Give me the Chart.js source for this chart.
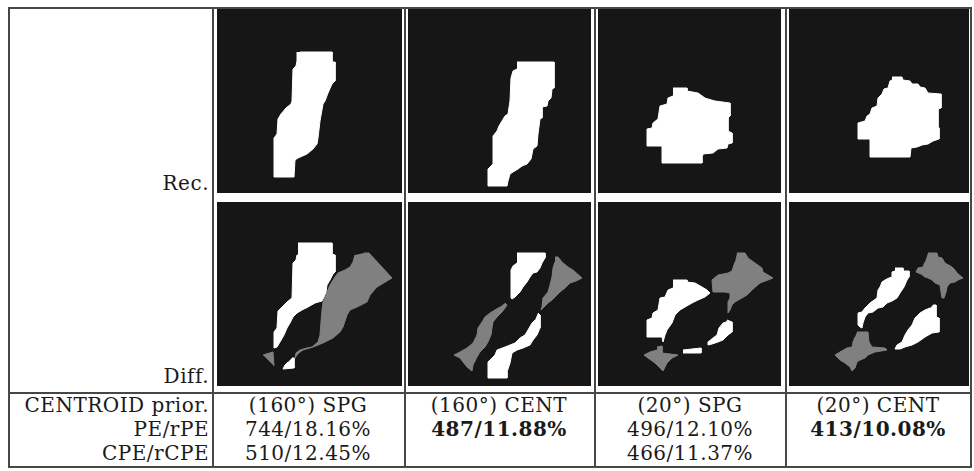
<!DOCTYPE html>
<html>
<head>
<meta charset="utf-8">
<script src="https://cdn.jsdelivr.net/npm/chart.js@4.4.0/dist/chart.umd.min.js"></script>
<style>
body { margin: 0; background: #fff; }
#sheet { position: relative; width: 974px; height: 471px; font-family: "DejaVu Serif", serif; color: #1a1a1a; overflow: hidden; }
.rule { position: absolute; background: #474747; }
.panel { position: absolute; background: #161616; }
.panel canvas { display: block; }
.txt { position: absolute; white-space: nowrap; font-size: 20px; line-height: 24px; letter-spacing: 0.5px; width: 300px; }
.r { text-align: right; }
.c { text-align: center; }
</style>
</head>
<body>
<div id="sheet"></div>
<script>
// column headers and result rows
const priors = ['(160°) SPG', '(160°) CENT', '(20°) SPG', '(20°) CENT'];
const peText = ['744/18.16%', '487/11.88%', '496/12.10%', '413/10.08%'];
const cpeText = ['510/12.45%', '', '466/11.37%', ''];
const bestPe = [false, true, false, true];
const rowLabels = ['CENTROID prior.', 'PE/rPE', 'CPE/rCPE'];

// reconstructed shapes (pixel units inside each panel, y downwards)
const recSpg160 = [[83,43],[115,43],[115,53],[118,53],[118,72],[115,75],[111,84],[108,92],[106,95],[103,112],[101,129],[100,135],[96,140],[90,145],[81,149],[78,151],[77,168],[57,168],[57,129],[60,125],[61,110],[64,105],[69,99],[74,95],[75,92],[76,60],[79,57],[80,52],[80,43]];
const recCent160 = [[109,53],[146,53],[146,79],[144,80],[143,89],[140,92],[139,97],[134,98],[134,109],[132,110],[130,125],[129,137],[125,140],[123,150],[119,155],[114,157],[110,160],[105,163],[102,165],[100,172],[99,177],[80,177],[80,160],[83,157],[85,155],[85,127],[89,122],[91,117],[94,112],[97,107],[100,105],[102,92],[103,69],[105,62],[109,60]];
const recSpg20 = [[75,79],[89,79],[89,82],[100,84],[107,89],[110,90],[117,92],[132,94],[132,107],[130,109],[130,122],[134,124],[134,134],[130,135],[129,139],[120,140],[115,144],[105,145],[104,149],[104,154],[64,154],[64,137],[49,137],[49,120],[54,119],[55,114],[60,110],[62,97],[69,95],[70,89],[75,87]];
const recCent20 = [[103,68],[113,68],[114,71],[121,72],[123,75],[129,75],[131,78],[136,79],[139,84],[152,85],[152,99],[149,100],[149,117],[150,119],[150,130],[144,132],[139,135],[133,136],[128,138],[122,139],[121,148],[81,148],[81,130],[69,130],[69,114],[76,112],[78,107],[81,105],[83,99],[88,97],[89,89],[93,85],[95,80],[99,79],[101,72],[103,71]];

// difference maps: white = extra pixels, gray = missed pixels
const diffSpg160White = [
  [[81,41],[115,41],[115,52],[118,53],[118,70],[116,72],[113,78],[110,83],[109,90],[107,95],[105,99],[98,101],[91,105],[85,108],[80,111],[76,115],[73,121],[70,126],[67,133],[63,140],[60,145],[57,146],[57,130],[60,126],[61,109],[65,105],[70,100],[75,96],[76,61],[79,58],[80,53],[81,53]],
  [[75,156],[77,156],[77,166],[66,167],[68,163],[71,160]]
];
const diffSpg160Gray = [
  [[147,51],[152,51],[175,76],[170,79],[160,85],[153,93],[150,100],[140,105],[133,108],[130,113],[126,125],[123,130],[116,136],[106,141],[96,145],[86,148],[83,150],[80,153],[78,156],[79,151],[83,148],[90,146],[95,145],[101,140],[103,133],[104,120],[105,108],[106,100],[108,96],[110,90],[113,83],[118,75],[121,71],[128,68],[133,65],[136,60],[138,53]],
  [[46,153],[56,150],[57,164]]
];
const diffCent160White = [
  [[109,51],[137,51],[137,56],[134,61],[132,66],[129,70],[125,71],[122,75],[119,80],[115,85],[112,90],[107,95],[104,97],[103,96],[103,68],[105,64],[109,61]],
  [[130,111],[132,113],[132,126],[129,133],[125,138],[122,143],[115,146],[109,148],[104,151],[102,161],[99,170],[99,176],[80,176],[80,160],[84,156],[87,153],[89,148],[97,145],[107,141],[112,136],[117,133],[120,128],[124,121],[127,118]]
];
const diffCent160Gray = [
  [[147,55],[150,55],[154,60],[160,65],[165,68],[174,76],[168,79],[162,81],[157,86],[152,90],[149,93],[144,98],[140,101],[135,106],[133,108],[134,105],[135,96],[140,90],[142,83],[144,75],[145,66],[147,60]],
  [[97,101],[99,103],[97,106],[94,110],[89,115],[85,120],[84,126],[83,133],[80,140],[77,145],[72,150],[69,155],[65,163],[64,169],[59,165],[52,156],[46,153],[52,150],[59,146],[65,141],[69,133],[70,126],[74,120],[77,115],[82,111],[87,108],[92,105]]
];
const diffSpg20White = [
  [[75,78],[89,78],[89,80],[97,81],[104,85],[109,88],[112,91],[107,95],[100,98],[94,101],[87,105],[82,108],[77,113],[74,121],[69,128],[67,133],[65,140],[64,135],[49,135],[49,118],[54,116],[55,111],[60,108],[62,96],[67,95],[70,88],[75,86]],
  [[129,118],[134,120],[134,130],[130,133],[125,138],[120,140],[114,142],[110,143],[110,140],[115,136],[119,133],[121,126],[125,121],[128,120]],
  [[85,148],[103,146],[103,151],[85,151]]
];
const diffSpg20Gray = [
  [[139,51],[147,51],[150,56],[157,61],[164,66],[165,70],[175,76],[170,78],[162,81],[154,88],[149,93],[144,96],[137,100],[134,103],[132,108],[130,111],[130,100],[132,96],[132,91],[127,90],[115,90],[114,78],[120,73],[130,71],[134,69],[137,60]],
  [[59,145],[64,144],[64,151],[80,153],[74,156],[69,161],[65,169],[62,166],[57,161],[50,156],[46,153],[52,150],[59,148]]
];
const diffCent20White = [
  [[106,66],[114,66],[114,69],[120,69],[120,75],[118,78],[115,85],[111,91],[108,96],[103,99],[98,101],[94,105],[89,106],[84,110],[79,111],[76,115],[74,121],[73,126],[71,125],[69,123],[69,111],[73,110],[76,106],[81,101],[88,96],[89,88],[91,85],[93,80],[96,78],[100,76],[103,75],[103,70],[106,69]],
  [[144,103],[147,103],[147,115],[150,116],[150,130],[143,131],[136,135],[129,140],[123,143],[116,145],[111,147],[106,147],[108,143],[113,140],[116,133],[119,128],[123,123],[126,116],[131,111],[136,108],[141,106]]
];
const diffCent20Gray = [
  [[139,51],[148,51],[149,55],[153,56],[156,61],[163,65],[166,68],[168,71],[174,76],[169,78],[166,80],[161,81],[158,85],[157,90],[155,96],[153,96],[152,90],[151,83],[146,81],[143,78],[139,76],[136,75],[132,72],[127,70],[129,66],[134,65],[136,60]],
  [[68,130],[79,130],[80,140],[83,145],[96,146],[98,148],[86,150],[79,153],[76,156],[71,158],[68,160],[66,166],[63,169],[61,165],[56,161],[51,158],[46,153],[51,150],[58,146],[63,145],[64,140],[66,135]]
];

const WHITE = '#ffffff';
const GRAY = '#808080';

const recRow = [[recSpg160], [recCent160], [recSpg20], [recCent20]];
const diffRow = [
  [diffSpg160White, diffSpg160Gray],
  [diffCent160White, diffCent160Gray],
  [diffSpg20White, diffSpg20Gray],
  [diffCent20White, diffCent20Gray]
];

const sheet = document.getElementById('sheet');

// panel columns and table rules
const cols = [{x: 217, w: 185}, {x: 408, w: 183}, {x: 598, w: 183}, {x: 789, w: 180}];
const rowTops = [9, 202];
const panelH = 184;

function rule(x, y, w, h) {
  const d = document.createElement('div');
  d.className = 'rule';
  d.style.left = x + 'px'; d.style.top = y + 'px';
  d.style.width = w + 'px'; d.style.height = h + 'px';
  sheet.appendChild(d);
}

function label(text, x, baseline, align, bold) {
  const d = document.createElement('div');
  d.className = 'txt ' + align;
  d.style.left = (align === 'r' ? x - 300 : x - 150) + 'px';
  d.style.top = (baseline - 19) + 'px';
  if (bold) d.style.fontWeight = 'bold';
  d.textContent = text;
  sheet.appendChild(d);
}

function toPoints(poly) {
  return poly.map(p => ({x: p[0], y: p[1]}));
}

// one chart per panel: every region is a closed polygon filled with 'shape'
function panel(col, top, groups) {
  const box = document.createElement('div');
  box.className = 'panel';
  box.style.left = col.x + 'px'; box.style.top = top + 'px';
  box.style.width = col.w + 'px'; box.style.height = panelH + 'px';
  const cv = document.createElement('canvas');
  cv.width = col.w; cv.height = panelH;
  box.appendChild(cv);
  sheet.appendChild(box);

  const datasets = [];
  groups.forEach((polys, gi) => {
    const color = gi === 0 ? WHITE : GRAY;
    polys.forEach(poly => {
      datasets.push({
        data: toPoints(poly),
        showLine: true,
        fill: 'shape',
        backgroundColor: color,
        borderColor: color,
        borderWidth: 1,
        pointRadius: 0,
        tension: 0
      });
    });
  });

  new Chart(cv, {
    type: 'scatter',
    data: {datasets: datasets},
    options: {
      responsive: false,
      animation: false,
      events: [],
      layout: {padding: 0},
      plugins: {legend: {display: false}, tooltip: {enabled: false}},
      scales: {
        x: {type: 'linear', display: false, min: 0, max: col.w},
        y: {type: 'linear', display: false, min: 0, max: panelH, reverse: true}
      }
    }
  });
}

cols.forEach((c, i) => {
  panel(c, rowTops[0], [recRow[i]]);
  panel(c, rowTops[1], diffRow[i]);
});

// table frame
rule(8, 7, 964, 2);
rule(8, 466, 964, 2);
rule(8, 7, 2, 461);
rule(970, 7, 2, 461);
[212, 404, 594, 785].forEach(x => rule(x, 7, 2, 461));
rule(8, 392, 964, 2);

// row labels
label('Rec.', 209, 190, 'r');
label('Diff.', 209, 383, 'r');
const baselines = [412, 436, 460];
rowLabels.forEach((t, i) => label(t, 209, baselines[i], 'r'));

const centers = [308, 499, 690, 878];
centers.forEach((cx, i) => {
  label(priors[i], cx, baselines[0], 'c');
  label(peText[i], cx, baselines[1], 'c', bestPe[i]);
  if (cpeText[i]) label(cpeText[i], cx, baselines[2], 'c');
});
</script>
</body>
</html>
